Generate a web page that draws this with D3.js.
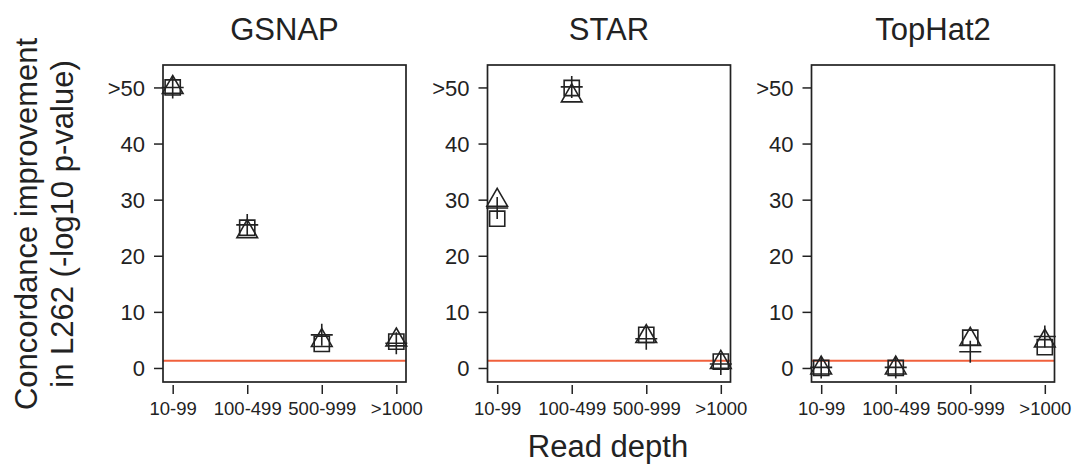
<!DOCTYPE html>
<html><head><meta charset="utf-8">
<script src="https://cdn.jsdelivr.net/npm/d3@7"></script>
<style>body{margin:0;background:#fff}svg{display:block}text{font-family:"Liberation Sans",Arial,Helvetica,sans-serif;fill:#222}</style>
</head><body><svg id="c" width="1078" height="465"></svg>
<script>
const categories = ["10-99","100-499","500-999",">1000"];
const panels = ["GSNAP","STAR","TopHat2"];
const yTicks = [0,10,20,30,40,50];
const yTickLabels = ["0","10","20","30","40",">50"];
const threshold = 1.3;
// series values per panel (categories order)
const squareVals = [[50,25,4.3,4.7],[26.6,49.9,5.9,1.15],[0,0,5.4,3.7]];
const triangleVals = [[50,24.3,4.9,5.0],[29.9,48.5,5.6,1.0],[0,0,5.1,4.8]];
const plusVals = [[50,25.5,5.9,4.4],[28.5,50.1,5.2,0.7],[0.1,0.1,2.9,5.6]];

const svg = d3.select("#c");
const panelLefts = [163, 487.5, 811.5];
const pw = 243, plotTop = 65, plotBottom = 382;
const ink = "#222";

const y = d3.scaleLinear().domain([-2.5, 54]).range([plotBottom, plotTop]);

panels.forEach((name, i) => {
  const x = d3.scaleLinear().domain([-0.13, 3.13]).range([panelLefts[i], panelLefts[i] + pw]);
  const g = svg.append("g");
  g.append("line").attr("x1", x(-0.13)).attr("x2", x(3.13))
    .attr("y1", y(threshold)).attr("y2", y(threshold))
    .attr("stroke", "#f0603c").attr("stroke-width", 2);
  const pts = (vals) => vals[i].map((v, k) => ({x: x(k), y: y(v)}));
  const sq = d3.symbol().type(d3.symbolSquare).size(230)();
  const tri = d3.symbol().type(d3.symbolTriangle).size(185)();
  g.selectAll(".sq").data(pts(squareVals)).join("path").attr("class","sq")
    .attr("d", sq).attr("transform", d => `translate(${d.x},${d.y})`)
    .attr("fill", "none").attr("stroke", ink).attr("stroke-width", 1.6);
  g.selectAll(".tri").data(pts(triangleVals)).join("path").attr("class","tri")
    .attr("d", tri).attr("transform", d => `translate(${d.x},${d.y})`)
    .attr("fill", "none").attr("stroke", ink).attr("stroke-width", 1.6);
  g.selectAll(".pl").data(pts(plusVals)).join("path").attr("class","pl")
    .attr("d", "M-11,0H11M0,-11V11").attr("transform", d => `translate(${d.x},${d.y})`)
    .attr("fill", "none").attr("stroke", ink).attr("stroke-width", 1.6);
  g.append("rect").attr("x", panelLefts[i]).attr("y", plotTop).attr("width", pw).attr("height", plotBottom - plotTop)
    .attr("fill", "none").attr("stroke", ink).attr("stroke-width", 1.7);
  const ya = d3.axisLeft(y).tickValues(yTicks).tickFormat((d, k) => yTickLabels[k]).tickSize(9).tickPadding(9);
  const yg = g.append("g").attr("transform", `translate(${panelLefts[i]},0)`).call(ya);
  yg.select(".domain").remove();
  yg.selectAll("line").attr("stroke", ink).attr("stroke-width", 1.5);
  yg.selectAll("text").attr("font-size", 22).attr("font-family", "Liberation Sans, Arial, sans-serif").attr("fill", ink).attr("dy", "0.36em");
  const xa = d3.axisBottom(x).tickValues([0,1,2,3]).tickFormat(k => categories[k]).tickSize(9).tickPadding(8);
  const xg = g.append("g").attr("transform", `translate(0,${plotBottom + 3})`).call(xa);
  xg.select(".domain").remove();
  xg.selectAll("line").attr("stroke", ink).attr("stroke-width", 1.5);
  xg.selectAll("text").attr("font-size", 18.5).attr("font-family", "Liberation Sans, Arial, sans-serif").attr("fill", ink);
  g.append("text").attr("x", panelLefts[i] + pw / 2).attr("y", 40).attr("text-anchor", "middle")
    .attr("font-size", 31).text(name);
});

svg.append("text").attr("x", 608).attr("y", 457).attr("text-anchor", "middle").attr("font-size", 31).text("Read depth");
svg.append("text").attr("transform", "translate(37,224) rotate(-90)").attr("text-anchor", "middle").attr("font-size", 31).text("Concordance improvement");
svg.append("text").attr("transform", "translate(73,224) rotate(-90)").attr("text-anchor", "middle").attr("font-size", 31).text("in L262 (-log10 p-value)");
</script></body></html>
